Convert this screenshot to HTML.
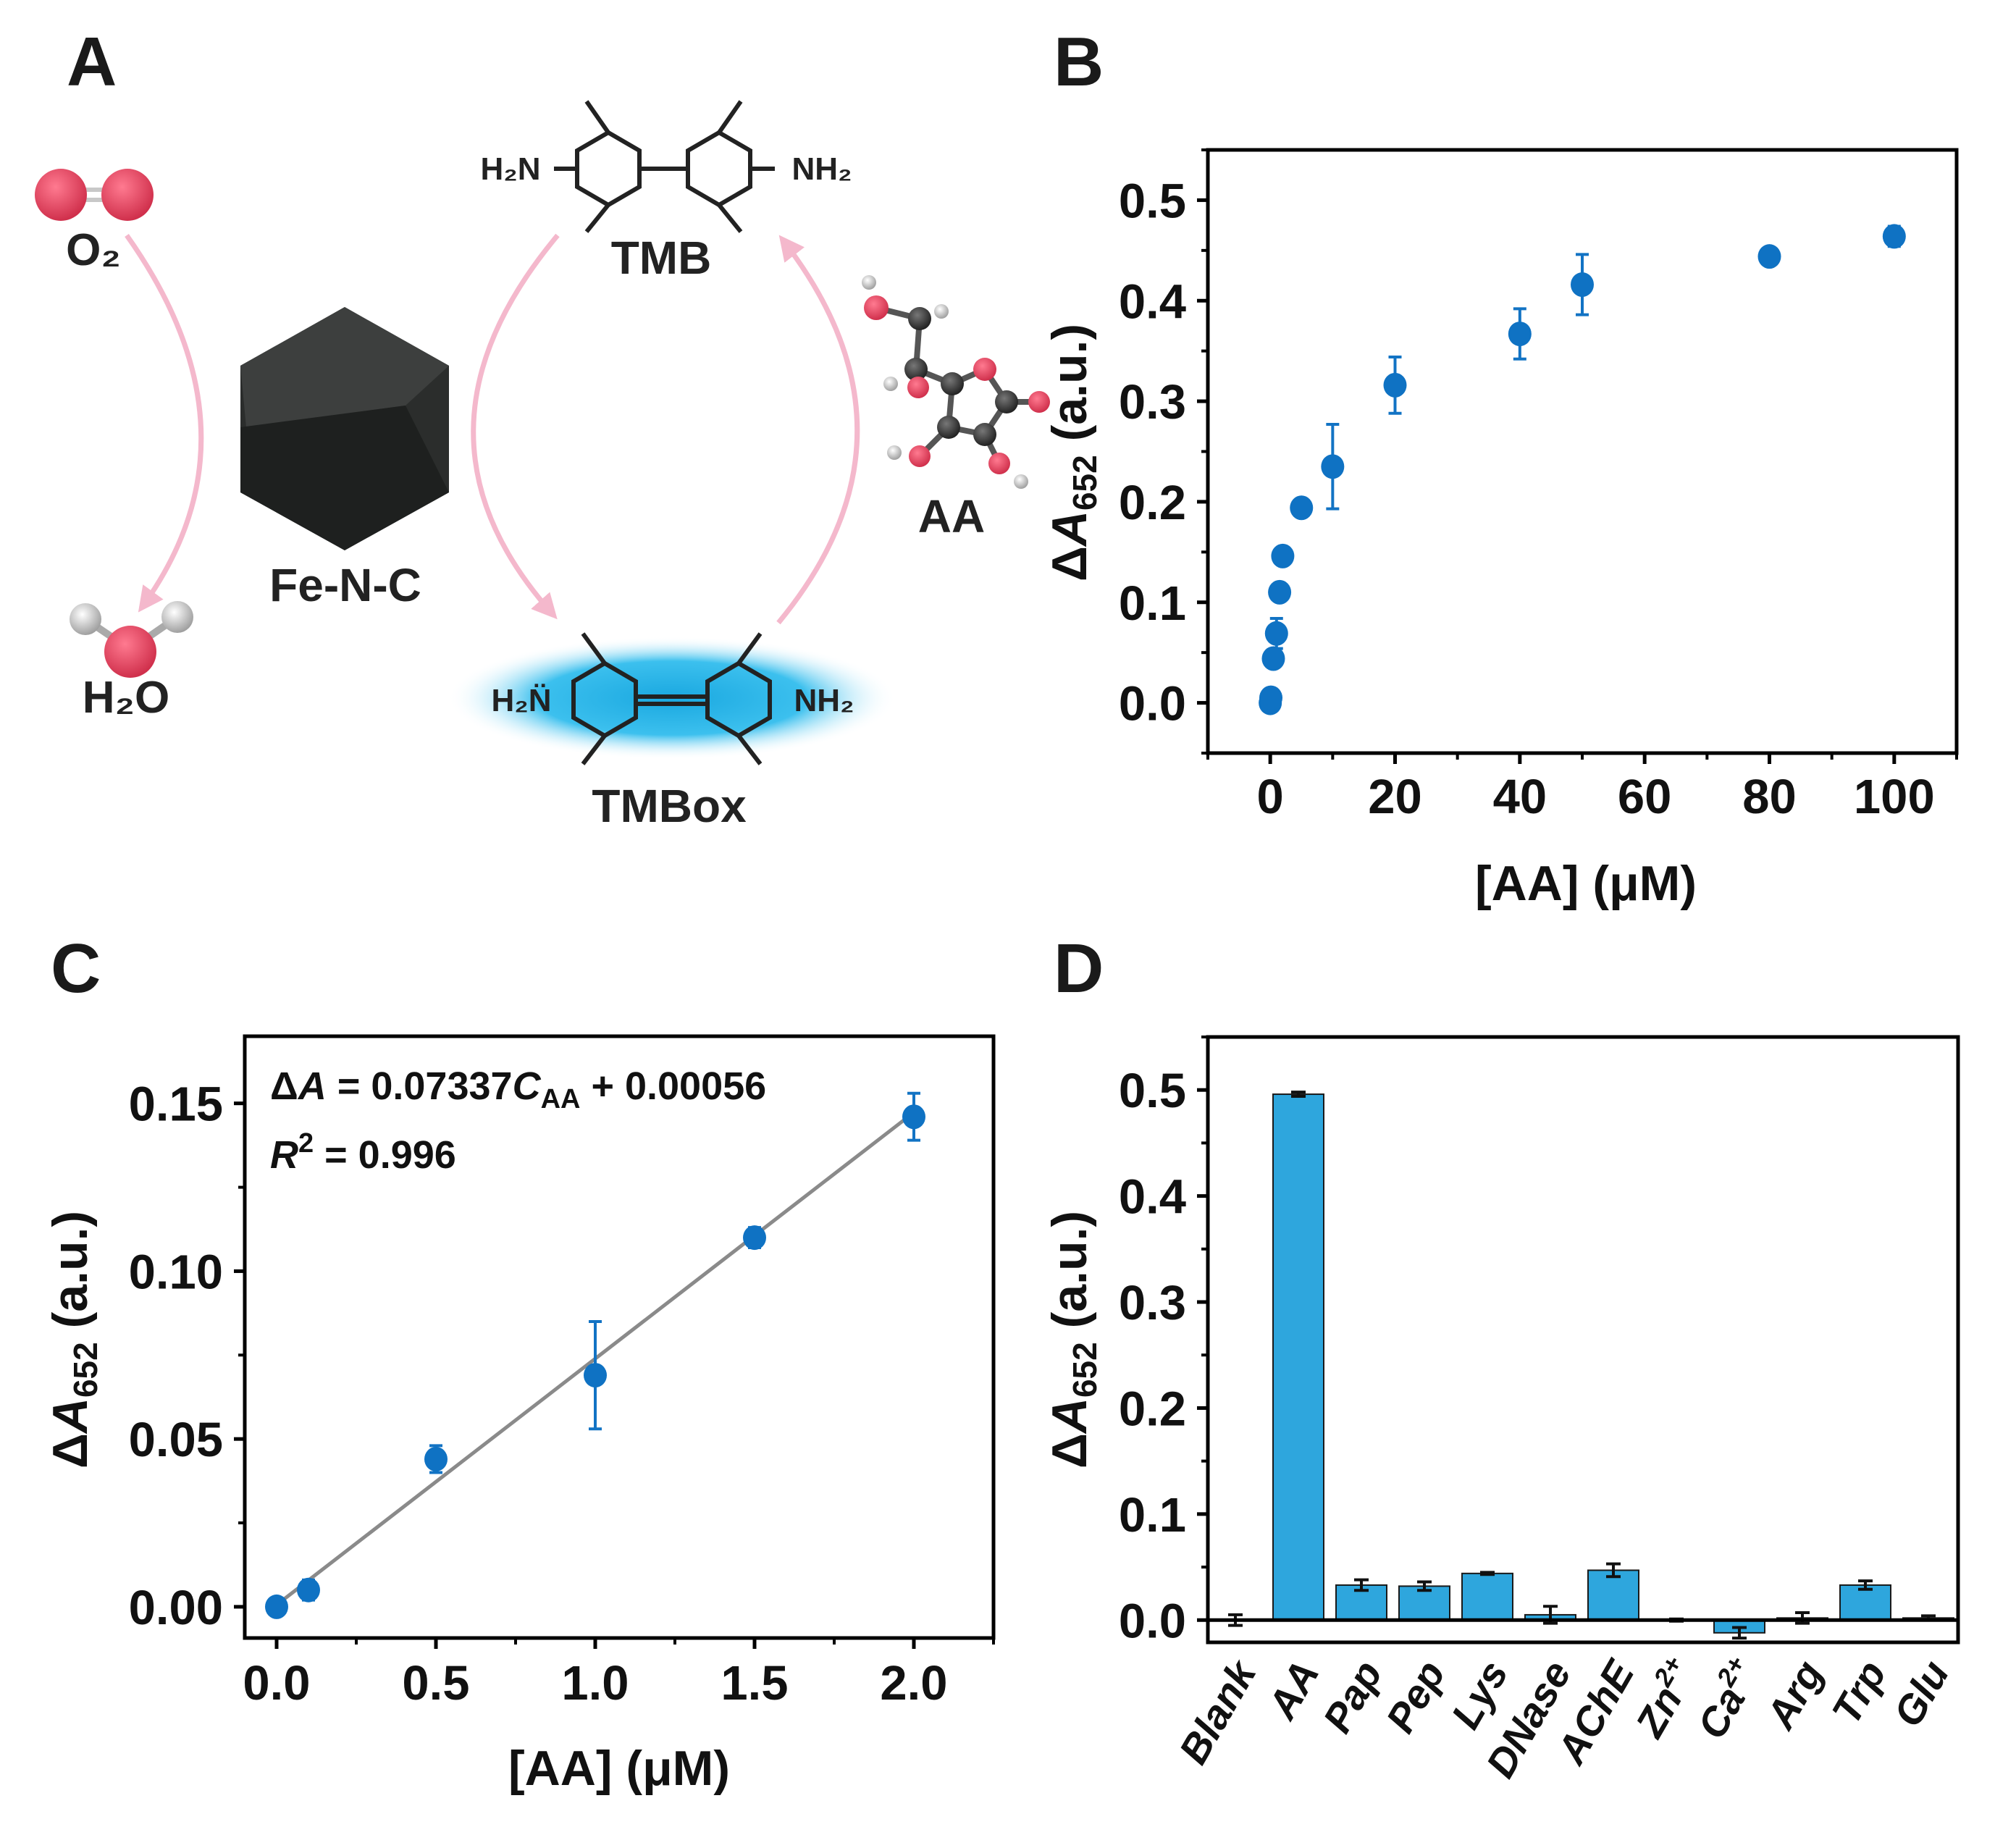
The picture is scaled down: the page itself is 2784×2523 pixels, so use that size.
<!DOCTYPE html>
<html><head><meta charset="utf-8">
<style>
html,body{margin:0;padding:0;background:#fff;}
svg{display:block;font-family:"Liberation Sans",Arial,sans-serif;font-weight:bold;}
</style></head>
<body>
<svg id="fig" width="2784" height="2523" viewBox="0 0 2784 2523" xmlns="http://www.w3.org/2000/svg">
<defs>
<radialGradient id="glow" cx="50%" cy="50%" r="50%">
<stop offset="0%" stop-color="#1aa8e0"/><stop offset="60%" stop-color="#3cc0ee"/><stop offset="100%" stop-color="#ffffff" stop-opacity="0"/>
</radialGradient>
<radialGradient id="red" cx="40%" cy="35%" r="65%"><stop offset="0%" stop-color="#ff7a90"/><stop offset="100%" stop-color="#d0304c"/></radialGradient>
<radialGradient id="wht" cx="40%" cy="35%" r="65%"><stop offset="0%" stop-color="#ffffff"/><stop offset="100%" stop-color="#a0a0a0"/></radialGradient>
<radialGradient id="blk" cx="40%" cy="35%" r="65%"><stop offset="0%" stop-color="#777"/><stop offset="100%" stop-color="#222"/></radialGradient>
<marker id="arr" viewBox="0 0 10 10" refX="8" refY="5" markerWidth="5" markerHeight="5" orient="auto"><path d="M0,0 L10,5 L0,10 z" fill="#f4b8cc"/></marker>
</defs>

<text x="92" y="118" font-size="96" fill="#1a1a1a">A</text>
<text x="1455" y="118" font-size="96" fill="#1a1a1a">B</text>
<text x="70" y="1370" font-size="96" fill="#1a1a1a">C</text>
<text x="1455" y="1370" font-size="96" fill="#1a1a1a">D</text>

<g>
  <g>
    <line x1="84" y1="262" x2="176" y2="262" stroke="#c8c8c8" stroke-width="6"/>
    <line x1="84" y1="276" x2="176" y2="276" stroke="#c8c8c8" stroke-width="6"/>
    <circle cx="84" cy="269" r="36" fill="url(#red)"/>
    <circle cx="176" cy="269" r="36" fill="url(#red)"/>
  </g>
  <text x="129" y="366" font-size="62" text-anchor="middle" fill="#222">O₂</text>
  <path d="M175,325 Q370,600 195,840" fill="none" stroke="#f4b8cc" stroke-width="7" marker-end="url(#arr)"/>
  <g>
    <line x1="118" y1="855" x2="180" y2="897" stroke="#aaa" stroke-width="10"/>
    <line x1="245" y1="852" x2="180" y2="897" stroke="#aaa" stroke-width="10"/>
    <circle cx="118" cy="855" r="22" fill="url(#wht)"/>
    <circle cx="245" cy="852" r="22" fill="url(#wht)"/>
    <circle cx="180" cy="900" r="36" fill="url(#red)"/>
  </g>
  <text x="174" y="984" font-size="62" text-anchor="middle" fill="#222">H₂O</text>
  <g>
    <polygon points="476,424 620,505 620,680 476,760 332,680 332,505" fill="#2b2d2c"/>
    <polygon points="476,424 620,505 560,560 340,590 332,505" fill="#3d3f3e"/>
    <polygon points="332,590 560,560 620,680 476,760 332,680" fill="#1e201f"/>
  </g>
  <text x="477" y="830" font-size="64" text-anchor="middle" fill="#222">Fe-N-C</text>
  <g stroke="#222" stroke-width="6" fill="none">
    <polygon points="840,183 883,208 883,258 840,283 797,258 797,208"/>
    <polygon points="993,183 1036,208 1036,258 993,283 950,258 950,208"/>
    <line x1="883" y1="233" x2="950" y2="233"/>
    <line x1="840" y1="183" x2="810" y2="140"/><line x1="840" y1="283" x2="810" y2="320"/>
    <line x1="993" y1="183" x2="1023" y2="140"/><line x1="993" y1="283" x2="1023" y2="320"/>
    <line x1="797" y1="233" x2="765" y2="233"/><line x1="1036" y1="233" x2="1070" y2="233"/>
  </g>
  <text x="705" y="248" font-size="44" text-anchor="middle" fill="#222">H₂N</text>
  <text x="1135" y="248" font-size="44" text-anchor="middle" fill="#222">NH₂</text>
  <text x="913" y="378" font-size="64" text-anchor="middle" fill="#222">TMB</text>
  <path d="M770,325 Q540,600 765,850" fill="none" stroke="#f4b8cc" stroke-width="7" marker-end="url(#arr)"/>
  <ellipse cx="928" cy="964" rx="310" ry="85" fill="url(#glow)"/>
  <g stroke="#222" stroke-width="6" fill="none">
    <polygon points="835,916 878,941 878,991 835,1016 792,991 792,941"/>
    <polygon points="1020,916 1063,941 1063,991 1020,1016 977,991 977,941"/>
    <line x1="878" y1="962" x2="977" y2="962"/><line x1="878" y1="972" x2="977" y2="972"/>
    <line x1="835" y1="916" x2="805" y2="875"/><line x1="835" y1="1016" x2="805" y2="1055"/>
    <line x1="1020" y1="916" x2="1050" y2="875"/><line x1="1020" y1="1016" x2="1050" y2="1055"/>
  </g>
  <text x="720" y="982" font-size="44" text-anchor="middle" fill="#222">H₂N̈</text>
  <text x="1138" y="982" font-size="44" text-anchor="middle" fill="#222">NH₂</text>
  <text x="924" y="1135" font-size="64" text-anchor="middle" fill="#222">TMBox</text>
  <path d="M1075,860 Q1290,600 1080,330" fill="none" stroke="#f4b8cc" stroke-width="7" marker-end="url(#arr)"/>
  <g stroke="#555" stroke-width="8">
    <line x1="1210" y1="425" x2="1270" y2="440"/><line x1="1270" y1="440" x2="1265" y2="510"/>
    <line x1="1265" y1="510" x2="1315" y2="530"/><line x1="1315" y1="530" x2="1360" y2="510"/>
    <line x1="1360" y1="510" x2="1390" y2="555"/><line x1="1390" y1="555" x2="1360" y2="600"/>
    <line x1="1360" y1="600" x2="1310" y2="590"/><line x1="1310" y1="590" x2="1315" y2="530"/>
    <line x1="1390" y1="555" x2="1435" y2="555"/><line x1="1310" y1="590" x2="1270" y2="630"/>
    <line x1="1360" y1="600" x2="1380" y2="640"/>
    <circle cx="1210" cy="425" r="17" fill="url(#red)" stroke="none"/>
    <circle cx="1270" cy="440" r="16" fill="url(#blk)" stroke="none"/>
    <circle cx="1265" cy="510" r="16" fill="url(#blk)" stroke="none"/>
    <circle cx="1315" cy="530" r="16" fill="url(#blk)" stroke="none"/>
    <circle cx="1360" cy="510" r="16" fill="url(#red)" stroke="none"/>
    <circle cx="1390" cy="555" r="16" fill="url(#blk)" stroke="none"/>
    <circle cx="1360" cy="600" r="16" fill="url(#blk)" stroke="none"/>
    <circle cx="1310" cy="590" r="16" fill="url(#blk)" stroke="none"/>
    <circle cx="1435" cy="555" r="15" fill="url(#red)" stroke="none"/>
    <circle cx="1270" cy="630" r="15" fill="url(#red)" stroke="none"/>
    <circle cx="1380" cy="640" r="15" fill="url(#red)" stroke="none"/>
    <circle cx="1268" cy="535" r="15" fill="url(#red)" stroke="none"/>
    <circle cx="1200" cy="390" r="10" fill="url(#wht)" stroke="none"/>
    <circle cx="1300" cy="430" r="10" fill="url(#wht)" stroke="none"/>
    <circle cx="1230" cy="530" r="10" fill="url(#wht)" stroke="none"/>
    <circle cx="1235" cy="625" r="10" fill="url(#wht)" stroke="none"/>
    <circle cx="1410" cy="665" r="10" fill="url(#wht)" stroke="none"/>
  </g>
  <text x="1314" y="735" font-size="64" text-anchor="middle" fill="#222">AA</text>
</g>

<g id="chartB"></g>
<g id="chartC"></g>
<g id="chartD"></g>
</svg>

<script>
// Panel B data
const bConc = [0, 0.1, 0.5, 1, 1.5, 2, 5, 10, 20, 40, 50, 80, 100];
const bVal  = [0, 0.005, 0.044, 0.069, 0.110, 0.146, 0.194, 0.235, 0.316, 0.367, 0.416, 0.444, 0.464];
const bErr  = [0.002, 0.003, 0.004, 0.015, 0.003, 0.004, 0.004, 0.042, 0.028, 0.025, 0.030, 0.004, 0.010];
const bXTicks = [0, 20, 40, 60, 80, 100];
const bYTicks = [0, 0.1, 0.2, 0.3, 0.4, 0.5];
// Panel C data
const cConc = [0, 0.1, 0.5, 1, 1.5, 2];
const cVal  = [0, 0.005, 0.044, 0.069, 0.110, 0.146];
const cErr  = [0.0015, 0.003, 0.004, 0.016, 0.003, 0.007];
const cSlope = 0.07337, cIntercept = 0.00056;
const cXTicks = [0, 0.5, 1.0, 1.5, 2.0];
const cYTicks = [0, 0.05, 0.10, 0.15];
// Panel D data
const dCats = ["Blank","AA","Pap","Pep","Lys","DNase","AChE","Zn","Ca","Arg","Trp","Glu"];
const dVal  = [0, 0.496, 0.033, 0.032, 0.044, 0.005, 0.047, 0, -0.012, 0.002, 0.033, 0.002];
const dErr  = [0.005, 0.002, 0.005, 0.004, 0.001, 0.008, 0.006, 0.001, 0.005, 0.005, 0.004, 0.002];
const dYTicks = [0, 0.1, 0.2, 0.3, 0.4, 0.5];

const NS = "http://www.w3.org/2000/svg";
function mk(parent, tag, attrs, text){
  const e = document.createElementNS(NS, tag);
  for (const k in attrs) e.setAttribute(k, attrs[k]);
  if (text !== undefined) e.textContent = text;
  parent.appendChild(e); return e;
}
function lin(d0,d1,r0,r1){ return v => r0 + (v-d0)/(d1-d0)*(r1-r0); }

function frame(g, L, R, T, B, name){
  const f = mk(g,'rect',{x:L,y:T,width:R-L,height:B-T,fill:'none',stroke:'#000','stroke-width':5});
  
  
}
function yAxis(g, y, ticks, minorStep, dmin, dmax, L, fmt, name){
  ticks.forEach(v=>{
    const t = mk(g,'line',{x1:L-15,x2:L,y1:y(v),y2:y(v),stroke:'#000','stroke-width':5});
    
    
    const lb = mk(g,'text',{x:L-30,y:y(v)+24,'font-size':67,'text-anchor':'end',fill:'#111'}, fmt(v));
    
    
  });
  for (let v = Math.ceil(dmin/minorStep)*minorStep; v <= dmax+1e-9; v += minorStep){
    const m = mk(g,'line',{x1:L-9,x2:L,y1:y(v),y2:y(v),stroke:'#000','stroke-width':4});
    
    
  }
}
function xAxis(g, x, ticks, minorStep, dmin, dmax, B, fmt, name, labY){
  ticks.forEach(v=>{
    const t = mk(g,'line',{x1:x(v),x2:x(v),y1:B,y2:B+15,stroke:'#000','stroke-width':5});
    
    
    const lb = mk(g,'text',{x:x(v),y:labY,'font-size':67,'text-anchor':'middle',fill:'#111'}, fmt(v));
    
    
  });
  for (let v = Math.ceil(dmin/minorStep)*minorStep; v <= dmax+1e-9; v += minorStep){
    const m = mk(g,'line',{x1:x(v),x2:x(v),y1:B,y2:B+9,stroke:'#000','stroke-width':4});
    
    
  }
}
function yTitle(g, cx, cy, name){
  const t = mk(g,'text',{x:0,y:0,'font-size':68,'text-anchor':'middle',fill:'#111',transform:`translate(${cx},${cy}) rotate(-90)`});
  
  
  t.innerHTML = 'Δ<tspan font-style="italic">A</tspan><tspan font-size="46" dy="14">652</tspan><tspan dy="-14"> (a.u.)</tspan>';
}
function xTitle(g, cx, cy, name){
  const t = mk(g,'text',{x:cx,y:cy,'font-size':68,'text-anchor':'middle',fill:'#111'}, '[AA] (μM)');
  
  
}
function points(g, xs, ys, es, x, y, name){
  xs.forEach((xv,i)=>{
    const px = x(xv), pt = y(ys[i]+es[i]), pb = y(ys[i]-es[i]);
    const eb = mk(g,'path',{d:`M${px},${pt}V${pb}M${px-9},${pt}H${px+9}M${px-9},${pb}H${px+9}`,stroke:'#1273c4','stroke-width':4,fill:'none'});
    
    
    const c = mk(g,'ellipse',{cx:px,cy:y(ys[i]),rx:16,ry:17,fill:'#0f72c3'});
    
    
  });
}

// ---- Panel B ----
(function(){
  const g = document.getElementById('chartB');
  const L=1668,R=2702,T=207,B=1040;
  const x = lin(-10,110,L,R), y = lin(-0.05,0.55,B,T);
  frame(g,L,R,T,B,'chart-b');
  yAxis(g,y,bYTicks,0.05,-0.05,0.55,L,v=>v.toFixed(1),'chart-b');
  xAxis(g,x,bXTicks,10,-10,110,B,v=>String(v),'chart-b',1123);
  yTitle(g,1500,625,'chart-b');
  xTitle(g,2190,1243,'chart-b');
  points(g,bConc,bVal,bErr,x,y,'chart-b');
})();

// ---- Panel C ----
(function(){
  const g = document.getElementById('chartC');
  const L=338,R=1372,T=1431,B=2262;
  const x = lin(-0.1,2.25,L,R), y = lin(-0.0093,0.17,B,T);
  frame(g,L,R,T,B,'chart-c');
  yAxis(g,y,cYTicks,0.025,-0.0093,0.17,L,v=>v.toFixed(2),'chart-c');
  xAxis(g,x,cXTicks,0.25,-0.1,2.25,B,v=>v.toFixed(1),'chart-c',2347);
  yTitle(g,120,1850,'chart-c');
  xTitle(g,855,2465,'chart-c');
  const fl = mk(g,'line',{x1:x(cConc[0]),y1:y(cSlope*cConc[0]+cIntercept),x2:x(cConc[cConc.length-1]),y2:y(cSlope*cConc[cConc.length-1]+cIntercept),stroke:'#8a8a8a','stroke-width':5});
  
  
  points(g,cConc,cVal,cErr,x,y,'chart-c');
  const eq = mk(g,'text',{x:373,y:1518,'font-size':54,fill:'#111'});
  
  
  eq.innerHTML = 'Δ<tspan font-style="italic">A</tspan> = 0.07337<tspan font-style="italic">C</tspan><tspan font-size="38" dy="12">AA</tspan><tspan dy="-12"> + 0.00056</tspan>';
  const r2 = mk(g,'text',{x:373,y:1613,'font-size':54,fill:'#111'});
  
  
  r2.innerHTML = '<tspan font-style="italic">R</tspan><tspan font-size="38" dy="-22">2</tspan><tspan dy="22"> = 0.996</tspan>';
})();

// ---- Panel D ----
(function(){
  const g = document.getElementById('chartD');
  const L=1668,R=2704,T=1432,B=2268;
  const y = lin(-0.021,0.55,B,T);
  const x0 = 1706, step = 87, bw = 70;
  frame(g,L,R,T,B,'chart-d');
  yAxis(g,y,dYTicks,0.05,-0.02,0.55,L,v=>v.toFixed(1),'chart-d');
  yTitle(g,1500,1850,'chart-d');
  dCats.forEach((c,i)=>{
    const cx = x0 + i*step;
    const y0 = y(0), yv = y(dVal[i]);
    const bar = mk(g,'rect',{x:cx-bw/2,y:Math.min(y0,yv),width:bw,height:Math.max(Math.abs(y0-yv),1),fill:'#2ea6dd',stroke:'#1a1a1a','stroke-width':2});
    
    
    const pt=y(dVal[i]+dErr[i]), pb=y(dVal[i]-dErr[i]);
    const eb = mk(g,'path',{d:`M${cx},${pt}V${pb}M${cx-10},${pt}H${cx+10}M${cx-10},${pb}H${cx+10}`,stroke:'#111','stroke-width':4,fill:'none'});
    
    
    const t = mk(g,'text',{x:0,y:0,'font-size':56,'font-style':'italic','text-anchor':'end',fill:'#111',transform:`translate(${cx+30},${B+40}) rotate(-60)`});
    
    
    if (c==='Zn' || c==='Ca') t.innerHTML = c+'<tspan font-size="36" dy="-24">2+</tspan>';
    else t.textContent = c;
  });
  const zl = mk(g,'line',{x1:L,x2:R,y1:y(0),y2:y(0),stroke:'#000','stroke-width':5});
  
  
})();
</script>
</body></html>
